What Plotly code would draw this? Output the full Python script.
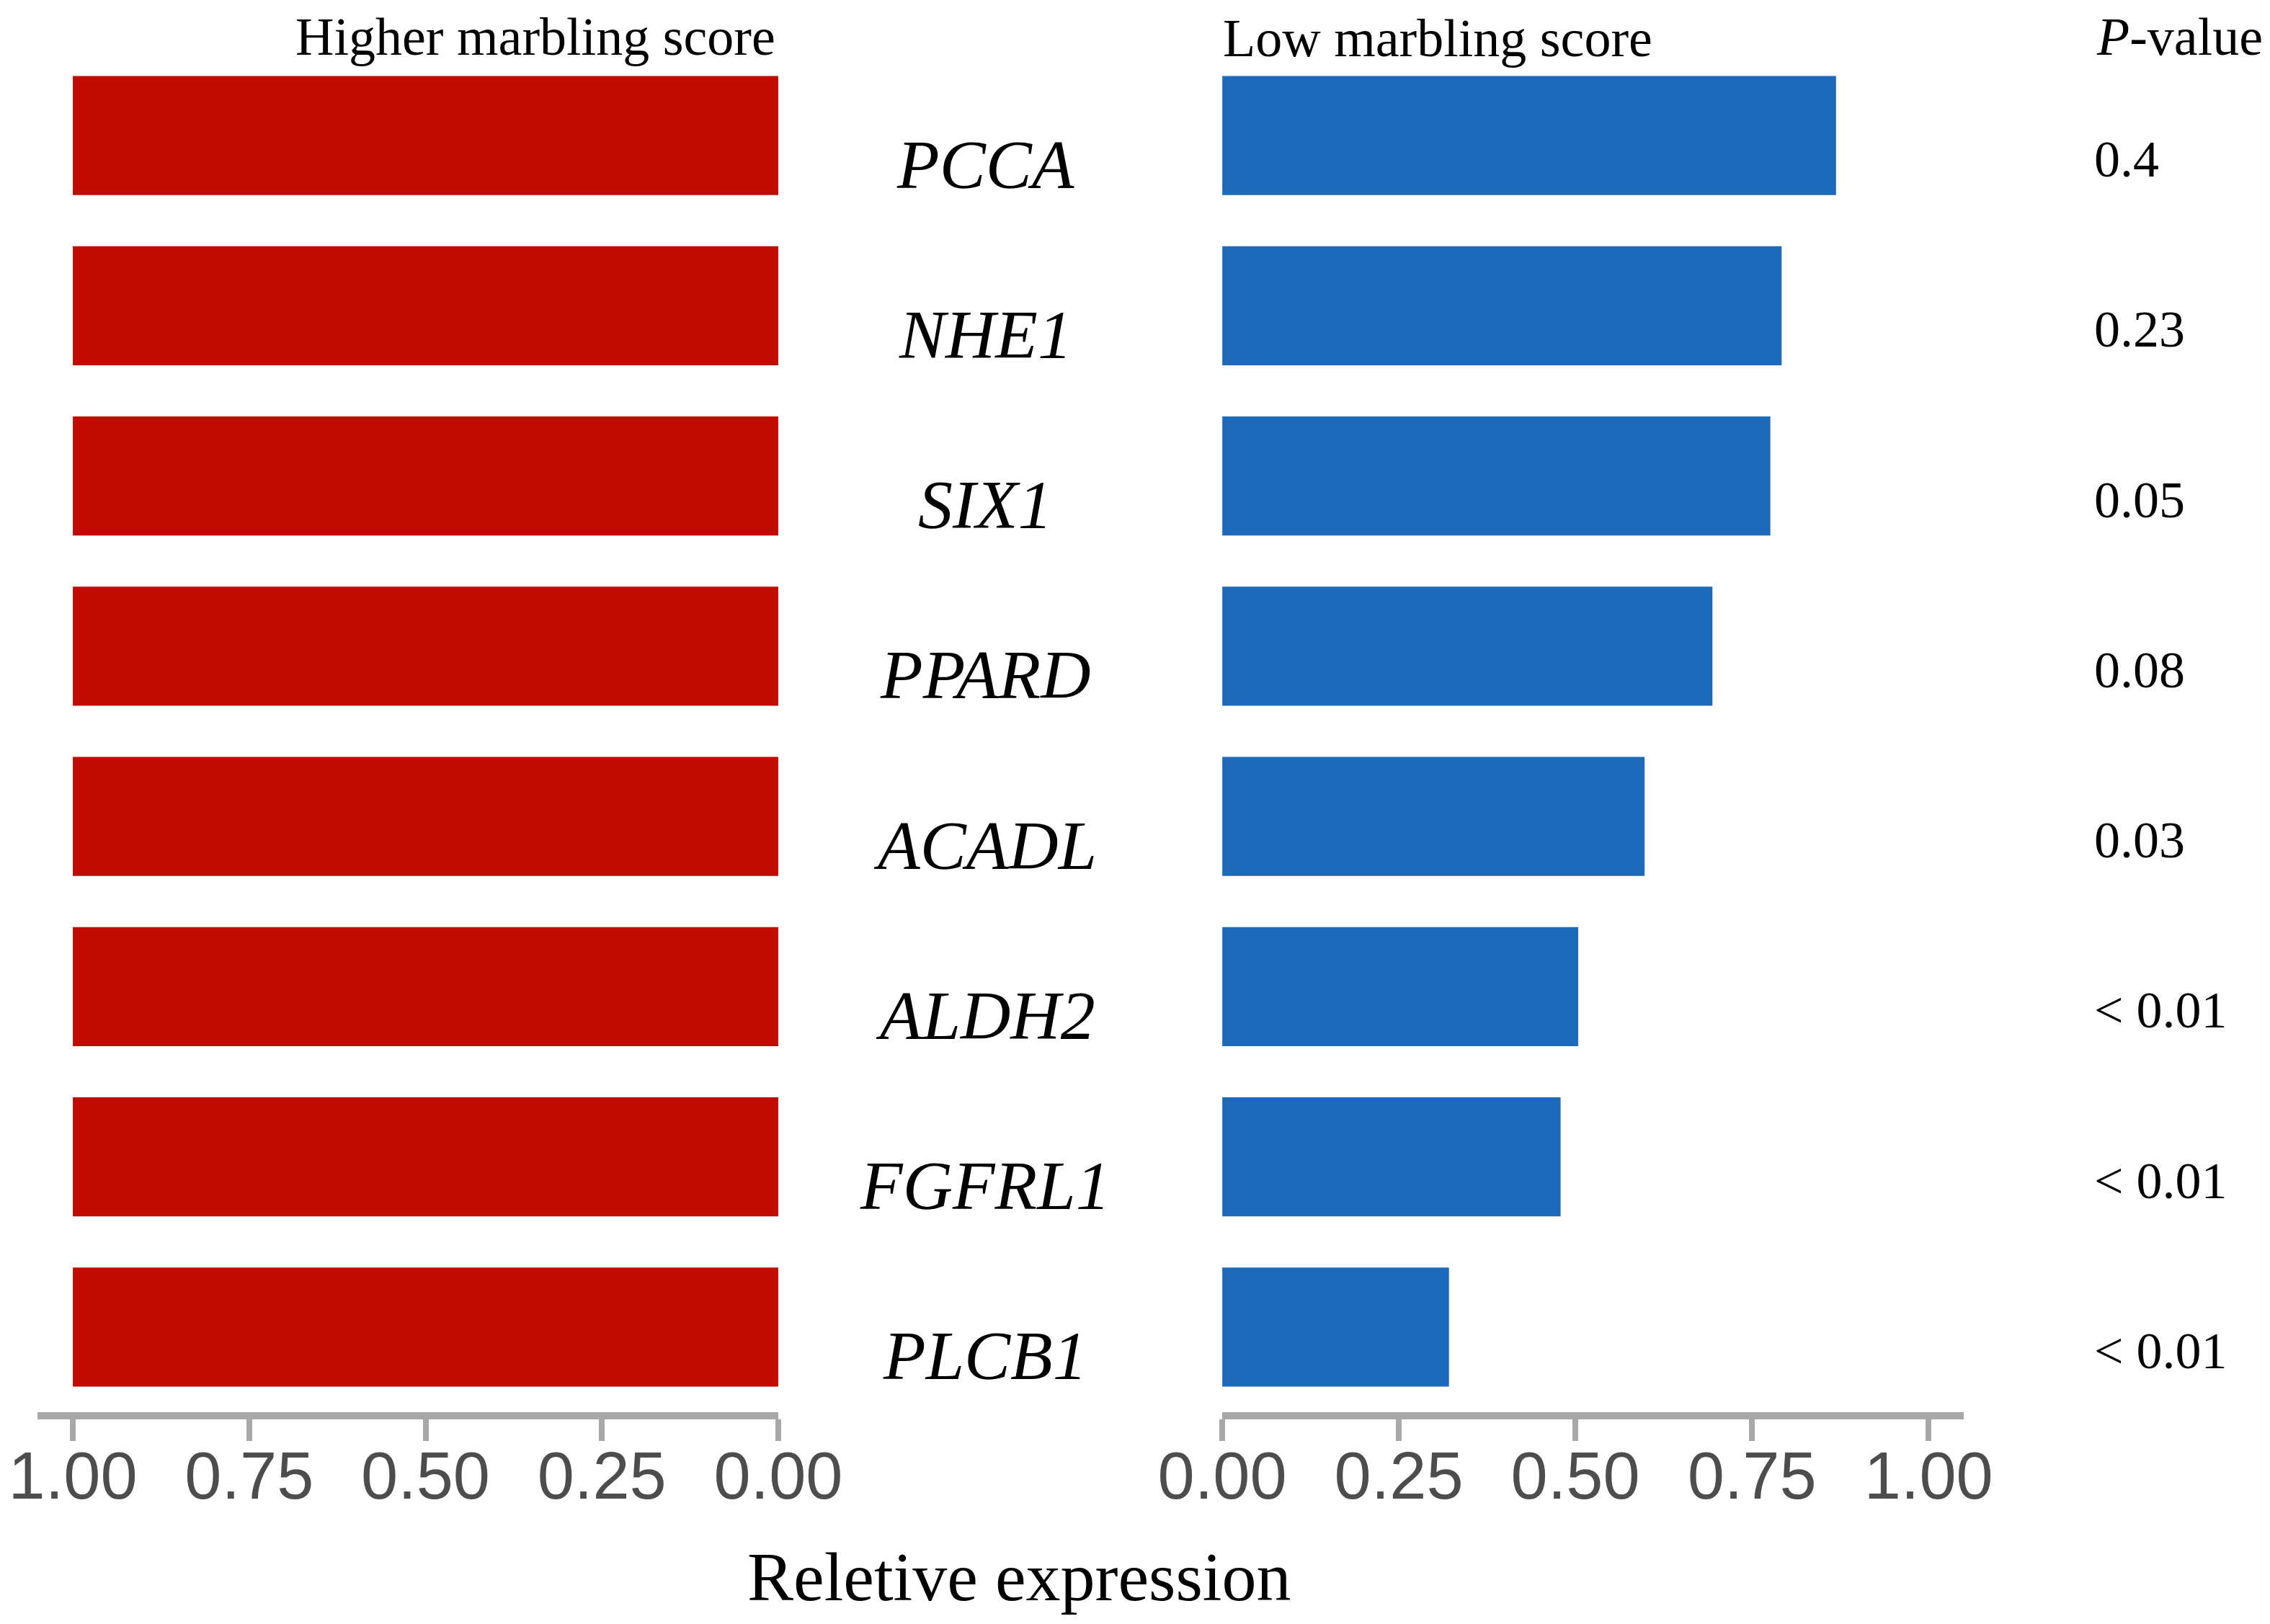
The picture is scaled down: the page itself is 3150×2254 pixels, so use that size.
import plotly.graph_objects as go

# data
genes = ["PCCA", "NHE1", "SIX1", "PPARD", "ACADL", "ALDH2", "FGFRL1", "PLCB1"]
high_marbling = [1.0, 1.0, 1.0, 1.0, 1.0, 1.0, 1.0, 1.0]
low_marbling = [0.869, 0.792, 0.776, 0.694, 0.598, 0.504, 0.479, 0.321]
p_values = ["0.4", "0.23", "0.05", "0.08", "0.03", "< 0.01", "< 0.01", "< 0.01"]
tick_vals = [0, 0.25, 0.5, 0.75, 1.0]

RED = "#C00C00"
BLUE = "#1D69BA"
AXIS_GREY = "#A8A8A8"
SERIF = "Liberation Serif, Times New Roman, serif"
SANS = "Liberation Sans, Arial, sans-serif"

W, H = 3150, 2254
TOP, BOTTOM = 62, 302
PLOT_H = H - TOP - BOTTOM


def paper_y(px):
    # pixel row from the top of the page -> paper coordinate
    return (H - BOTTOM - px) / PLOT_H


fig = go.Figure()

fig.add_trace(
    go.Bar(
        x=high_marbling,
        y=genes,
        orientation="h",
        marker=dict(color=RED, line=dict(width=0)),
        xaxis="x",
        yaxis="y",
        name="Higher marbling score",
    )
)
fig.add_trace(
    go.Bar(
        x=low_marbling,
        y=genes,
        orientation="h",
        marker=dict(color=BLUE, line=dict(width=0)),
        xaxis="x2",
        yaxis="y",
        name="Low marbling score",
    )
)

axis_style = dict(
    showgrid=False,
    zeroline=False,
    showline=True,
    linecolor=AXIS_GREY,
    linewidth=10,
    ticks="outside",
    ticklen=30,
    tickwidth=8,
    tickcolor=AXIS_GREY,
    tickvals=tick_vals,
    tickformat=".2f",
    tickfont=dict(family=SANS, size=92, color="#4D4D4D"),
    ticklabelstandoff=-30,
    automargin=False,
    fixedrange=True,
)

# gene names between the two panels
for g in genes:
    fig.add_annotation(
        x=0.4315, y=g, xref="paper", yref="y",
        text=f"<i>{g}</i>", showarrow=False,
        xanchor="center", yanchor="middle", yshift=-40,
        font=dict(family=SERIF, size=96, color="black"),
    )

# p-values on the right
for g, p in zip(genes, p_values):
    fig.add_annotation(
        x=0.9194, y=g, xref="paper", yref="y",
        text=p, showarrow=False,
        xanchor="left", yanchor="middle", yshift=-33,
        font=dict(family=SERIF, size=72, color="black"),
    )

# headers (kept just inside the top edge of the page)
header_font = dict(family=SERIF, size=74, color="black")
fig.add_annotation(
    x=0.3397, y=paper_y(0), xref="paper", yref="paper",
    text="Higher marbling score", showarrow=False,
    xanchor="right", yanchor="top", font=header_font,
)
fig.add_annotation(
    x=0.5356, y=paper_y(2), xref="paper", yref="paper",
    text="Low marbling score", showarrow=False,
    xanchor="left", yanchor="top", font=header_font,
)
fig.add_annotation(
    x=0.9950, y=paper_y(0), xref="paper", yref="paper",
    text="<i>P</i>-value", showarrow=False,
    xanchor="right", yanchor="top", font=header_font,
)
fig.add_annotation(
    x=0.4462, y=paper_y(2180), xref="paper", yref="paper",
    text="Reletive expression", showarrow=False,
    xanchor="center", yanchor="middle",
    font=dict(family=SERIF, size=96, color="black"),
)

fig.update_layout(
    width=W,
    height=H,
    margin=dict(l=0, r=0, t=TOP, b=BOTTOM, autoexpand=False),
    paper_bgcolor="white",
    plot_bgcolor="white",
    showlegend=False,
    bargap=0.3,
    xaxis=dict(domain=[0.0140, 0.3403], range=[1.05, 0], **axis_style),
    xaxis2=dict(domain=[0.5359, 0.8626], range=[0, 1.05], anchor="y", **axis_style),
    yaxis=dict(
        categoryorder="array",
        categoryarray=genes,
        range=[7.5, -0.5],
        visible=False,
        fixedrange=True,
    ),
)

fig.write_html("out.html")
